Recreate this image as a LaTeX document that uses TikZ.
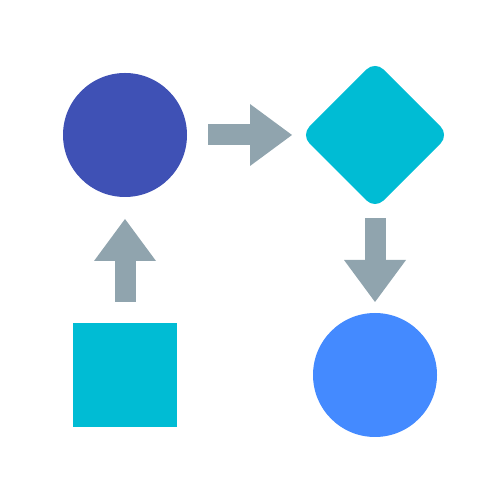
\documentclass[tikz,border=0pt]{standalone}
\usetikzlibrary{shapes.geometric,arrows.meta}

\definecolor{indigo}{HTML}{3F51B5}
\definecolor{cyanish}{HTML}{00BCD4}
\definecolor{skyblue}{HTML}{448AFF}
\definecolor{arrowgrey}{HTML}{90A4AE}

\begin{document}
\begin{tikzpicture}[
    blob/.style={circle, inner sep=0pt, outer sep=0pt, minimum size=2.48cm},
    fatarrow/.style={arrowgrey, line width=0.42cm,
        -{Triangle[length=0.84cm, width=1.24cm, line width=0pt]}}]

    \useasboundingbox (0,0) rectangle (10,10);

    % Start circle
    \node[blob, fill=indigo] (start) at (2.5,7.3) {};

    % Decision
    \node[diamond, fill=cyanish, inner sep=0pt, outer sep=0pt,
          minimum width=2.96cm, minimum height=2.96cm,
          rounded corners=0.24cm] (decide) at (7.5,7.3) {};

    % End circle
    \node[blob, fill=skyblue] (finish) at (7.5,2.5) {};

    % Input square
    \node[rectangle, fill=cyanish, inner sep=0pt, outer sep=0pt,
          minimum size=2.08cm] (input) at (2.5,2.5) {};

    % Arrows
    \draw[fatarrow, shorten <=0.42cm, shorten >=0.44cm] (input) -- (start);
    \draw[fatarrow, shorten <=0.42cm, shorten >=0.18cm] (start) -- (decide);
    \draw[fatarrow, shorten <=0.18cm, shorten >=0.22cm] (decide) -- (finish);

\end{tikzpicture}
\end{document}
